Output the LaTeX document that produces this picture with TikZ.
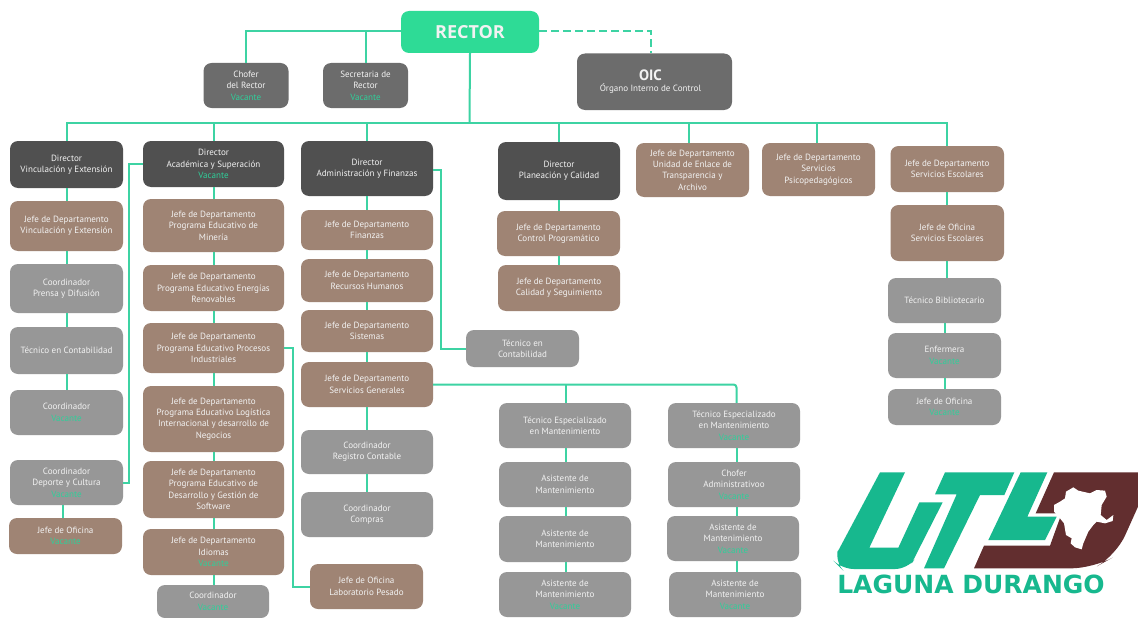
\documentclass[tikz,border=0pt]{standalone}
\usepackage{fontspec}
\setmainfont{PT Sans}
\newfontfamily\logofont{Open Sans}
\newfontfamily\brandfont{DejaVu Sans}
\definecolor{linkc}{HTML}{3DD3A3}
\definecolor{vacc}{HTML}{2FCF9A}
\definecolor{darkb}{HTML}{505050}
\definecolor{midb}{HTML}{6C6C6C}
\definecolor{brownb}{HTML}{9F8474}
\definecolor{grayb}{HTML}{979797}
\definecolor{rectorc}{HTML}{2EDB96}
\definecolor{logog}{HTML}{17B88E}
\definecolor{logom}{HTML}{622E2F}
\newcommand\vac{\textcolor{vacc}{Vacante}}
\newcommand\bx[7]{\node[boxbase,#2,minimum width={(#5-#3)*1pt},minimum height={(#6-#4)*1pt}] (#1) at ({(#3+#5)/2},{(#4+#6)/2}) {#7};}
\newcommand\vc[2]{\draw[link] (#1.south) -- (#1.south |- #2.north);}
\newcommand\vcs[3]{\draw[link] ([xshift=#3pt]#1.south) -- ([xshift=#3pt]#1.south |- #2.north);}
\tikzset{
  x=1pt,y=-1pt,
  boxbase/.style={rounded corners=8pt,align=center,inner sep=0pt,text=white!95!black,font=\fontsize{9.05}{11.4}\selectfont},
  dk/.style={fill=darkb},
  md/.style={fill=midb},
  br/.style={fill=brownb},
  gr/.style={fill=grayb},
  link/.style={draw=linkc,line width=2pt},
}
\begin{document}
\begin{tikzpicture}
\useasboundingbox (0,0) rectangle (1138,618);
\fill[white] (0,0) rectangle (1138,618);
% top
\bx{rector}{fill=rectorc,font=\logofont\bfseries\fontsize{18}{20}\selectfont}{401}{11}{539}{53}{RECTOR}
\bx{chofer}{md}{203.5}{63}{288.5}{108}{Chofer\\del Rector\\\vac}
\bx{secre}{md}{323}{63}{408}{108}{Secretaria de\\Rector\\\vac}
\bx{oic}{md}{577}{53.5}{732}{110}{\hspace*{-8pt}{\bfseries\fontsize{15}{16}\selectfont OIC}\\\hspace*{-8pt}Órgano Interno de Control}
% column 1
\bx{dve}{dk}{10}{141}{123}{188}{Director\\Vinculación y Extensión}
\bx{jve}{br}{10}{201}{123}{251}{Jefe de Departamento\\Vinculación y Extensión}
\bx{cpd}{gr}{10}{264}{123}{313}{Coordinador\\Prensa y Difusión}
\bx{tec}{gr}{10}{327}{123}{374}{Técnico en Contabilidad}
\bx{coa}{gr}{10}{390}{123}{435}{Coordinador\\\vac}
\bx{cdc}{gr}{10}{460}{123}{505}{Coordinador\\Deporte y Cultura\\\vac}
\bx{jof}{br}{9}{518}{122}{554}{Jefe de Oficina\\\vac}
% column 2
\bx{dac}{dk}{143}{141}{284}{187}{Director\\Académica y Superación\\\vac}
\bx{pmi}{br}{143}{199}{284}{252}{Jefe de Departamento\\Programa Educativo de\\Minería}
\bx{pen}{br}{143}{265}{284}{311}{Jefe de Departamento\\Programa Educativo Energías\\Renovables}
\bx{ppr}{br}{143}{323}{284}{373}{Jefe de Departamento\\Programa Educativo Procesos\\Industriales}
\bx{plo}{br}{143}{386}{284}{452}{Jefe de Departamento\\Programa Educativo Logística\\Internacional y desarrollo de\\Negocios}
\bx{pso}{br}{143}{461}{284}{518}{Jefe de Departamento\\Programa Educativo de\\Desarrollo y Gestión de\\Software}
\bx{idi}{br}{143}{529}{284}{575}{Jefe de Departamento\\Idiomas\\\vac}
\bx{cob}{gr}{157}{585}{269}{618}{Coordinador\\\vac}
% column 3
\bx{dad}{dk}{301}{141}{433}{196}{Director\\Administración y Finanzas}
\bx{jfi}{br}{301}{210}{433}{250}{Jefe de Departamento\\Finanzas}
\bx{jrh}{br}{301}{259}{433}{302}{Jefe de Departamento\\Recursos Humanos}
\bx{jsi}{br}{301}{310}{433}{352}{Jefe de Departamento\\Sistemas}
\bx{jsg}{br}{301}{362}{433}{407}{Jefe de Departamento\\Servicios Generales}
\bx{crc}{gr}{301}{430}{433}{474}{Coordinador\\Registro Contable}
\bx{cco}{gr}{301}{492}{433}{537}{Coordinador\\Compras}
\bx{lab}{br}{310}{564}{423}{609}{Jefe de Oficina\\Laboratorio Pesado}
\bx{tcb}{gr}{466}{330}{579}{367}{Técnico en\\Contabilidad}
% maintenance
\bx{tea}{gr}{499}{403}{631}{448}{Técnico Especializado\\en Mantenimiento}
\bx{asa}{gr}{499}{462}{631}{507}{Asistente de\\Mantenimiento}
\bx{asb}{gr}{499}{516}{631}{562}{Asistente de\\Mantenimiento}
\bx{asc}{gr}{499}{572}{631}{617}{Asistente de\\Mantenimiento\\\vac}
\bx{teb}{gr}{668}{403}{800}{448}{Técnico Especializado\\en Mantenimiento\\\vac}
\bx{cha}{gr}{668}{462}{800}{507}{Chofer\\Administrativoo\\\vac}
\bx{asd}{gr}{667}{516}{799}{561}{Asistente de\\Mantenimiento\\\vac}
\bx{ase}{gr}{669}{572}{801}{617}{Asistente de\\Mantenimiento\\\vac}
% planning
\bx{dpl}{dk}{498}{142}{620}{200}{Director\\Planeación y Calidad}
\bx{jcp}{br}{497}{211}{620}{256}{Jefe de Departamento\\Control Programático}
\bx{jcs}{br}{498}{265}{620}{311}{Jefe de Departamento\\Calidad y Seguimiento}
\bx{jun}{br}{636}{143}{749}{197}{Jefe de Departamento\\Unidad de Enlace de\\Transparencia y\\Archivo}
\bx{jps}{br}{762}{143}{875}{196}{Jefe de Departamento\\Servicios\\Psicopedagógicos}
\bx{jse}{br}{890.5}{146}{1004}{192}{Jefe de Departamento\\Servicios Escolares}
\bx{ofe}{br}{890.5}{205}{1004}{261}{Jefe de Oficina\\Servicios Escolares}
\bx{tbi}{gr}{888}{278}{1001}{323}{Técnico Bibliotecario}
\bx{enf}{gr}{888}{333}{1001}{378}{Enfermera\\\vac}
\bx{ofi}{gr}{888}{389}{1001}{425}{Jefe de Oficina\\\vac}
% connectors
\coordinate (trunk) at (469.5,123);
\draw[link] (rector.west |- 0,31) -| (chofer.north);
\draw[link] (secre.north) -- (secre.north |- 0,31);
\draw[link,dashed,dash pattern=on 8pt off 4pt] (rector.east |- 0,31) -| (651,53.5);
\draw[link] (rector.south) -- (trunk);
\draw[link] (dve.north) -- (dve.north |- trunk) -- (jse.north |- trunk) -- (jse.north);
\foreach \n in {dac,dad,dpl}{\draw[link] (\n.north) -- (\n.north |- trunk);}
\draw[link] ([xshift=-3.5pt]jun.north) -- ([xshift=-3.5pt]jun.north |- trunk);
\draw[link] ([xshift=-1.5pt]jps.north) -- ([xshift=-1.5pt]jps.north |- trunk);
\vc{dve}{jve}\vc{jve}{cpd}\vc{cpd}{tec}\vc{tec}{coa}
\vcs{cdc}{jof}{-3.5}
\draw[link] (dac.west) -- ++(-13.5,0) |- (cdc.east);
\vc{dac}{pmi}\vc{pmi}{pen}\vc{pen}{ppr}\vc{ppr}{plo}\vc{plo}{pso}\vc{pso}{idi}\vc{idi}{cob}
\draw[link] (ppr.east) -- ++(9,0) |- (lab.west);
\vc{dad}{jfi}\vc{jfi}{jrh}\vc{jrh}{jsi}\vc{jsi}{jsg}\vc{jsg}{crc}\vc{crc}{cco}
\draw[link] ([yshift=-1.5pt]dad.east) -- ++(7.5,0) |- (tcb.west);
\draw[link,rounded corners=3pt] (jsg.east) -| ([xshift=2.5pt]teb.north);
\draw[link] ([xshift=1pt]tea.north) -- ([xshift=1pt]tea.north |- jsg.east);
\vcs{tea}{asa}{1}\vcs{asa}{asb}{1}\vcs{asb}{asc}{1}
\vcs{teb}{cha}{2.5}\vcs{cha}{asd}{2.5}\vcs{asd}{ase}{3.5}
\vc{dpl}{jcp}\vc{jcp}{jcs}
\vc{jse}{ofe}\vc{ofe}{tbi}\vc{tbi}{enf}\vc{enf}{ofi}
% logo
\begin{scope}[shift={(830,465)},x=0.33333pt,y=-0.33333pt]
\fill[logog] (150,22) -- (225,22) -- (118,248) -- (205,248) -- (268,112) -- (338,112) -- (245,295) [rounded corners=12pt] -- (232,312) -- (35,312) -- (15,292) [rounded corners=0pt] -- (22,262) -- cycle;
\fill[logog] (345,22) -- (553,22) -- (523,90) -- (450,90) -- (342,310) -- (282,310) -- (380,88) -- (315,88) -- cycle;
\fill[logog] (572,22) -- (652,22) -- (592,155) -- (680,155) -- (645,225) -- (475,225) -- cycle;
\fill[logom] (672,22) -- (924,22) -- (924,125) [rounded corners=22pt] -- (858,272) -- (790,310) [rounded corners=0pt] -- (432,310) -- (462,242) -- (660,242) -- (695,145) -- (617,145) -- cycle;
\fill[white] (672,120) -- (690,110) -- (705,100) -- (708,80) -- (730,67) -- (745,77) -- (780,85) -- (800,75) -- (825,77) -- (830,95) -- (815,120) -- (812,150) -- (830,165) -- (850,150) -- (848,168) -- (825,175) -- (800,170) -- (790,180) -- (775,200) -- (760,235) -- (755,253) -- (735,247) -- (722,235) -- (725,220) -- (708,210) -- (702,175) -- (690,160) -- (672,140) -- cycle;
\end{scope}
\node[font=\brandfont\bfseries\fontsize{25}{26}\selectfont,text=logog,inner sep=0pt] (logotext) at (971,584) {LAGUNA DURANGO};
\end{tikzpicture}
\end{document}
